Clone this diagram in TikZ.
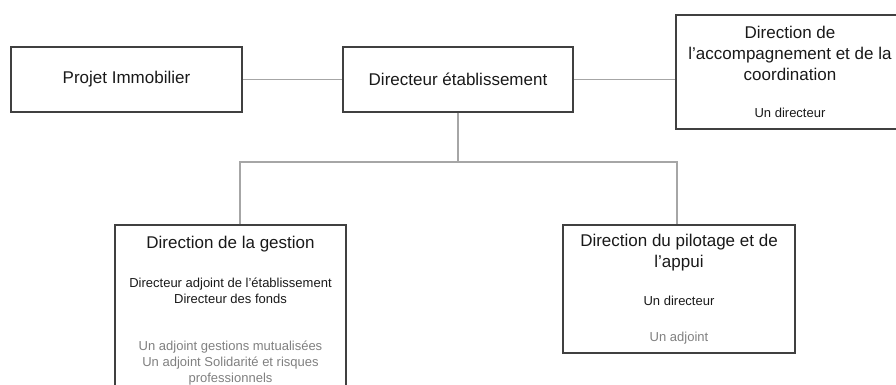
\documentclass[tikz,border=0pt]{standalone}
\usepackage{fontspec}
\setmainfont{Liberation Sans}
\definecolor{boxline}{HTML}{404040}
\definecolor{wiregrey}{HTML}{A6A6A6}
\definecolor{txtgrey}{HTML}{808080}
\newcommand{\titlesize}{\fontsize{17}{16}\selectfont}
\newcommand{\smallsize}{\fontsize{13}{16}\selectfont}
\tikzset{
  orgbox/.style={draw=boxline,line width=1.5pt,inner sep=0pt,align=center,font=\smallsize,text=black!90},
  wire/.style={draw=wiregrey,line width=1.5pt}
}
\begin{document}
\begin{tikzpicture}[x=1pt,y=-1pt]
        \useasboundingbox (0,0) rectangle (896,385);
        %% top row
        \node[orgbox,minimum width=231pt,minimum height=65pt] (projet) at (126.5,79.5) {\titlesize Projet Immobilier};
        \node[orgbox,minimum width=230pt,minimum height=65pt] (dir) at (458,79.5) {\titlesize Directeur établissement};
        \node[orgbox,minimum width=228pt,minimum height=114pt] (accomp) at (790,72)
            {\titlesize Direction de\\[5pt] \titlesize l'accompagnement et de la\\[5pt] \titlesize coordination\\[21.5pt] Un directeur};
        %% bottom row
        \node[orgbox,minimum width=231pt,minimum height=170.5pt] (gestion) at (230.5,310.25)
            {\titlesize Direction de la gestion\\[23pt] Directeur adjoint de l'établissement\\ Directeur des fonds\\[31pt]
             \textcolor{txtgrey}{Un adjoint gestions mutualisées}\\ \textcolor{txtgrey}{Un adjoint Solidarité et risques}\\ \textcolor{txtgrey}{professionnels}};
        \node[orgbox,minimum width=232pt,minimum height=128pt] (pilot) at (679,289)
            {\titlesize Direction du pilotage et de\\[5pt] \titlesize l'appui\\[22.5pt] Un directeur\\[20pt] \textcolor{txtgrey}{Un adjoint}};
        %% links
        \draw[wire] (projet) -- (dir);
        \draw[wire] (dir.east) -- (dir.east -| accomp.west);
        \coordinate (busL) at (240,162);
        \coordinate (busR) at (677,162);
        \draw[wire] (dir.south) -- (dir.south |- busL);
        \draw[wire] (busL |- gestion.north) -- (busL) -- (busR) -- (busR |- pilot.north);
    \end{tikzpicture}
\end{document}
